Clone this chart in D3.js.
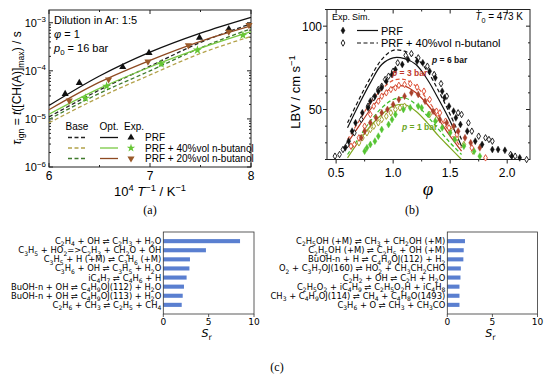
<!DOCTYPE html>
<meta charset="utf-8">
<style>body{margin:0;background:#fff}</style>
<script src="https://d3js.org/d3.v7.min.js"></script>
<div id="chart"></div>
<script>

// ---------- (a) ignition delay times ----------
var invT = [6, 6.5, 7, 7.5, 8];
var optPRF  = [1.9e-5, 7.8e-5, 2.45e-4, 6.1e-4, 1.3e-3];
var opt20   = [1.55e-5, 5.8e-5, 1.65e-4, 4.1e-4, 8.6e-4];
var opt40   = [1.25e-5, 4.3e-5, 1.2e-4, 2.95e-4, 6.5e-4];
var basePRF = [1.1e-5, 4.0e-5, 1.25e-4, 3.9e-4, 9.5e-4];
var base20  = [9.8e-6, 3.4e-5, 1.0e-4, 3.0e-4, 7.5e-4];
var base40  = [8.3e-6, 2.8e-5, 8.2e-5, 2.3e-4, 5.2e-4];
var expPRFx = [6.16, 6.30, 6.73, 6.99, 7.49, 7.78];
var expPRFy = [3.3e-5, 5.6e-5, 1.2e-4, 2.35e-4, 4.9e-4, 7.4e-4];
var exp40x  = [6.36, 6.57, 7.11, 7.47, 7.92];
var exp40y  = [2.7e-5, 4.8e-5, 1.4e-4, 2.7e-4, 5.5e-4];
var exp20x  = [6.2, 6.59, 6.98, 7.38, 7.78, 7.98];
var exp20y  = [2.4e-5, 6.6e-5, 1.55e-4, 3.4e-4, 6.5e-4, 8.9e-4];

// ---------- (b) laminar burning velocity ----------
var simPhi = [0.6, 0.7, 0.8, 0.9, 1.0, 1.1, 1.2, 1.3, 1.4, 1.5, 1.6];
var sim6  = [39, 53, 66, 77, 81, 80.5, 77, 68, 56, 43, 28];
var sim6b = [42, 56, 69, 80, 85.5, 85, 81, 73, 61, 47, 32];
var sim3  = [30, 40, 50, 58, 63.5, 64, 60, 53, 44, 34, 25];
var sim3b = [32, 43, 54, 62, 67.5, 68, 64, 56, 46, 36, 27];
var sim1  = [21, 31, 40, 47, 52, 53, 49, 42, 34, 27, 20];
var sim1b = [23, 33, 43, 51, 56, 57, 53, 46, 38, 30, 23];
var exp6 = [[0.58,27],[0.61,31],[0.64,37],[0.67,42],[0.73,48],[0.78,51],[0.8,55],[0.84,58],[0.87,61],[0.9,63],[0.94,67],[0.99,71],[1.02,74],[1.08,77],[1.13,80],[1.21,79],[1.26,78],[1.32,73],[1.37,69],[1.43,61],[1.45,57],[1.49,52],[1.53,49],[1.55,45],[1.59,41],[1.65,37],[1.72,31],[1.78,29],[1.87,26],[1.92,26],[1.98,25.5],[2.04,22],[2.11,21]];
var exp6b = [[0.49,22],[0.53,23],[0.56,26],[0.6,29],[0.66,36],[0.72,44],[0.78,52],[0.83,57],[0.87,62],[0.9,64],[0.93,68],[0.96,70],[1.0,73],[1.04,78],[1.11,82.5],[1.16,83.5],[1.22,81],[1.3,76],[1.36,71],[1.42,65.5],[1.47,58],[1.57,48],[1.6,47],[1.66,42],[1.69,37],[1.75,34],[1.81,33],[1.84,32],[1.87,31],[2.03,23],[2.07,22],[2.17,20]];
var exp3 = [[0.72,33],[0.75,37],[0.8,42],[0.85,45],[0.9,48],[0.95,50],[1.0,53],[1.05,56],[1.1,58],[1.16,60],[1.22,59],[1.28,55],[1.35,49],[1.41,44],[1.47,42],[1.53,40],[1.57,37],[1.63,33],[1.68,30],[1.76,27]];
var exp3b = [[0.63,28],[0.66,29],[0.7,33],[0.75,40],[0.8,47],[0.83,52],[0.87,55],[0.9,58],[0.94,60],[0.98,62],[1.02,63],[1.05,64.5],[1.1,65],[1.15,65.5],[1.21,63.4],[1.27,61],[1.32,56],[1.38,49],[1.41,48],[1.46,43],[1.49,39],[1.56,35],[1.69,27],[1.81,21]];
var exp1 = [[0.75,25],[0.77,27],[0.8,29],[0.84,31],[0.87,34],[0.9,38],[0.96,41],[0.99,44],[1.02,47],[1.09,50],[1.15,51],[1.22,52],[1.25,51],[1.31,47],[1.37,43],[1.43,39],[1.5,36],[1.54,32],[1.62,28],[1.71,25],[1.76,22]];
var exp1b = [[0.7,30],[0.73,33],[0.77,36],[0.8,38],[0.83,40],[0.87,42],[0.9,44],[0.94,46],[0.98,48],[1.02,50],[1.06,51],[1.1,52],[1.32,47],[1.38,44],[1.5,38],[1.56,33],[1.62,29],[1.7,25]];

// ---------- (c) sensitivity ----------
var reacLeft = ["C2H4 + OH \u21CC C2H3 + H2O", "C3H5 + HO2=>C2H3 + CH2O + OH", "C3H5 + H (+M) \u21CC C3H6 (+M)",
  "C3H6 + OH \u21CC C3H5 + H2O", "iC4H7 \u21CC C4H6 + H", "BuOH-n + OH \u21CC C4H9OJ(112) + H2O",
  "BuOH-n + OH \u21CC C4H9OJ(113) + H2O", "C2H6 + CH3 \u21CC C2H5 + CH4"];
var srLeft = [8.46, 4.7, 2.94, 2.88, 2.57, 2.28, 2.14, 2.03];
var reacRight = ["C2H5OH (+M) \u21CC CH3 + CH2OH (+M)", "C2H5OH (+M) \u21CC C2H5 + OH (+M)", "BuOH-n + H \u21CC C4H9OJ(112) + H2",
  "O2 + C3H7OJ(160) \u21CC HO2 + CH3CH2CHO", "C2H2 + OH \u21CC C2H + H2O", "C2H5O2 + iC4H9 \u21CC C2H5O2H + iC4H8",
  "CH3 + C4H9OJ(114) \u21CC CH4 + C4H8O(1493)", "C3H6 + O \u21CC CH3 + CH3CO"];
var srRight = [1.96, 1.82, 1.78, 1.5, 1.46, 1.35, 1.35, 1.35];

var sans = "Liberation Sans, Arial, sans-serif";

var svg = d3.select("#chart").append("svg")
    .attr("width", 550).attr("height", 378)
    .style("font-family", sans);

// text with sub/superscripts: parts = [[text, kind]], kind: "", "sub", "sup", "it"
function rich(g, parts, size) {
  var prev = 0;
  parts.forEach(function(p) {
    var shift = p[1] == "sub" ? size * 0.28 : p[1] == "sup" ? -size * 0.4 : 0;
    var t = g.append("tspan").text(p[0]).attr("dy", shift - prev);
    if (p[1] == "sub" || p[1] == "sup") t.attr("font-size", size * 0.72);
    if (p[1] == "it") t.attr("font-style", "italic");
    prev = shift;
  });
  return g;
}

// chemistry formula -> parts (digits after letters are subscripts)
function formula(s) {
  var parts = [], cur = "", sub = false;
  for (var i = 0; i < s.length; i++) {
    var c = s[i], isD = /[0-9]/.test(c);
    var want = isD && (sub || (i > 0 && /[A-Za-z]/.test(s[i-1])));
    if (want != sub) { if (cur) parts.push([cur, sub ? "sub" : ""]); cur = ""; sub = want; }
    cur += c;
  }
  if (cur) parts.push([cur, sub ? "sub" : ""]);
  return parts;
}

// ================= (a) =================
var ax = d3.scaleLinear().domain([6, 8]).range([49, 251]);
var ay = d3.scaleLog().domain([1e-6, 1.84e-3]).range([167, 10]);
var ga = svg.append("g");

ga.append("rect").attr("x", 49).attr("y", 10).attr("width", 202).attr("height", 157)
  .attr("fill", "none").attr("stroke", "#222").attr("stroke-width", 1);

var minorA = [];
[-6, -5, -4, -3].forEach(function(e) { for (var k = 1; k < 10; k++) { var v = k * Math.pow(10, e); if (v <= 1.84e-3) minorA.push(v); } });
minorA.forEach(function(v) {
  var len = (Math.abs(Math.log10(v) - Math.round(Math.log10(v))) < 1e-9) ? 4 : 2;
  ga.append("line").attr("x1", 49).attr("x2", 49 + len).attr("y1", ay(v)).attr("y2", ay(v)).attr("stroke", "#222");
  ga.append("line").attr("x1", 251).attr("x2", 251 - len).attr("y1", ay(v)).attr("y2", ay(v)).attr("stroke", "#222");
});
[6, 6.5, 7, 7.5, 8].forEach(function(v) {
  var len = v % 1 == 0 ? 4 : 2;
  ga.append("line").attr("x1", ax(v)).attr("x2", ax(v)).attr("y1", 167).attr("y2", 167 - len).attr("stroke", "#222");
  ga.append("line").attr("x1", ax(v)).attr("x2", ax(v)).attr("y1", 10).attr("y2", 10 + len).attr("stroke", "#222");
});
[6, 7, 8].forEach(function(v) {
  ga.append("text").attr("x", ax(v)).attr("y", 180).attr("text-anchor", "middle").attr("font-size", 12).text(v);
});
[-6, -5, -4, -3].forEach(function(e) {
  var t = ga.append("text").attr("x", 46).attr("y", ay(Math.pow(10, e)) + 4).attr("text-anchor", "end").attr("font-size", 11);
  rich(t, [["10", ""], [String(e).replace("-", "\u2212"), "sup"]], 11);
});
rich(ga.append("text").attr("x", 150).attr("y", 196).attr("text-anchor", "middle").attr("font-size", 13),
  [["10", ""], ["4", "sup"], [" ", ""], ["T", "it"], ["\u22121", "sup"], [" / K", ""], ["\u22121", "sup"]], 13);
rich(ga.append("text").attr("transform", "translate(21,88) rotate(-90)").attr("text-anchor", "middle").attr("font-size", 12),
  [["\u03C4", "it"], ["ign", "sub"], [" = ", ""], ["t", "it"], ["([CH(A)]", ""], ["max", "sub"], [") / s", ""]], 12);
svg.append("text").attr("x", 150).attr("y", 214).attr("text-anchor", "middle")
  .attr("font-family", "Liberation Serif, serif").attr("font-size", 12).text("(a)");

// annotations
ga.append("text").attr("x", 54).attr("y", 24).attr("font-size", 11).text("Dilution in Ar: 1:5");
rich(ga.append("text").attr("x", 54).attr("y", 38).attr("font-size", 11), [["\u03C6", "it"], [" = 1", ""]], 11);
rich(ga.append("text").attr("x", 54).attr("y", 52).attr("font-size", 11), [["p", "it"], ["0", "sub"], [" = 16 bar", ""]], 11);

var lineA = d3.line().x(function(d, i) { return ax(invT[i]); }).y(function(d) { return ay(d); }).curve(d3.curveMonotoneX);
var aLines = [
  [basePRF, "#222", "4,2.5"], [base40, "#b3a24a", "4,2.5"], [base20, "#3f7a2c", "4,2.5"],
  [opt40, "#79c943", null], [opt20, "#8e4a22", null], [optPRF, "#111", null]
];
aLines.forEach(function(l) {
  ga.append("path").attr("d", lineA(l[0])).attr("fill", "none").attr("stroke", l[1])
    .attr("stroke-width", 1.3).attr("stroke-dasharray", l[2]);
});
function marks(g, xs, ys, sx, sy, type, size, color, rot) {
  xs.forEach(function(x, i) {
    g.append("path").attr("d", d3.symbol().type(type).size(size)())
      .attr("transform", "translate(" + sx(x) + "," + sy(ys[i]) + ")" + (rot ? " rotate(180)" : ""))
      .attr("fill", color);
  });
}
marks(ga, expPRFx, expPRFy, ax, ay, d3.symbolTriangle, 22, "#111", false);
marks(ga, exp40x, exp40y, ax, ay, d3.symbolStar, 26, "#66c633", false);
marks(ga, exp20x, exp20y, ax, ay, d3.symbolTriangle, 22, "#9a5a2a", true);

// legend (a)
[["Base", 77], ["Opt.", 109], ["Exp.", 134]].forEach(function(h) {
  ga.append("text").attr("x", h[1]).attr("y", 130).attr("text-anchor", "middle").attr("font-size", 10).text(h[0]);
});
var legA = [
  ["PRF", "#222", "#111", "#111", d3.symbolTriangle, false],
  ["PRF + 40%vol n-butanol", "#b3a24a", "#79c943", "#66c633", d3.symbolStar, false],
  ["PRF + 20%vol n-butanol", "#3f7a2c", "#8e4a22", "#9a5a2a", d3.symbolTriangle, true]
];
legA.forEach(function(r, i) {
  var y = 137.5 + i * 10.5;
  ga.append("line").attr("x1", 68).attr("x2", 87).attr("y1", y).attr("y2", y).attr("stroke", r[1]).attr("stroke-width", 1.3).attr("stroke-dasharray", "4,2.5");
  ga.append("line").attr("x1", 100).attr("x2", 118).attr("y1", y).attr("y2", y).attr("stroke", r[2]).attr("stroke-width", 1.3);
  ga.append("path").attr("d", d3.symbol().type(r[4]).size(22)()).attr("fill", r[3])
    .attr("transform", "translate(131," + y + ")" + (r[5] ? " rotate(180)" : ""));
  ga.append("text").attr("x", 145).attr("y", y + 3.5).attr("font-size", 10).text(r[0]);
});

// ================= (b) =================
var bx = d3.scaleLinear().domain([0.42, 2.2]).range([327, 530]);
var by = d3.scaleLinear().domain([20, 110]).range([159.5, 9.5]);
var gb = svg.append("g");
gb.append("rect").attr("x", 327).attr("y", 9.5).attr("width", 203).attr("height", 150)
  .attr("fill", "none").attr("stroke", "#222");
d3.range(20, 111, 10).forEach(function(v) {
  var len = v % 50 == 0 ? 4 : 2;
  gb.append("line").attr("x1", 327).attr("x2", 327 - len).attr("y1", by(v)).attr("y2", by(v)).attr("stroke", "#222");
  gb.append("line").attr("x1", 530).attr("x2", 530 - len).attr("y1", by(v)).attr("y2", by(v)).attr("stroke", "#222");
});
d3.range(0.5, 2.21, 0.25).forEach(function(v) {
  var len = Math.abs(v * 2 - Math.round(v * 2)) < 1e-6 ? 4 : 2;
  gb.append("line").attr("x1", bx(v)).attr("x2", bx(v)).attr("y1", 159.5).attr("y2", 159.5 + len).attr("stroke", "#222");
  gb.append("line").attr("x1", bx(v)).attr("x2", bx(v)).attr("y1", 9.5).attr("y2", 9.5 + len).attr("stroke", "#222");
});
[50, 100].forEach(function(v) {
  gb.append("text").attr("x", 322).attr("y", by(v) + 4.5).attr("text-anchor", "end").attr("font-size", 12).text(v);
});
[0.5, 1.0, 1.5, 2.0].forEach(function(v) {
  gb.append("text").attr("x", bx(v)).attr("y", 177).attr("text-anchor", "middle").attr("font-size", 12).text(v.toFixed(1));
});
rich(gb.append("text").attr("transform", "translate(300,92) rotate(-90)").attr("text-anchor", "middle").attr("font-size", 13),
  [["LBV / cm s", ""], ["\u22121", "sup"]], 13);
gb.append("text").attr("x", 428).attr("y", 195).attr("text-anchor", "middle").attr("font-family", "Liberation Serif, serif")
  .attr("font-style", "italic").attr("font-size", 19).text("\u03C6");
svg.append("text").attr("x", 412).attr("y", 214).attr("text-anchor", "middle")
  .attr("font-family", "Liberation Serif, serif").attr("font-size", 12).text("(b)");

var lineB = d3.line().x(function(d, i) { return bx(simPhi[i]); }).y(function(d) { return by(d); }).curve(d3.curveCatmullRom);
[[sim1, "#7ea81f", null], [sim1b, "#3fbf2a", "4,2.5"], [sim3, "#b8351f", null], [sim3b, "#e0553a", "4,2.5"],
 [sim6, "#111", null], [sim6b, "#111", "4,2.5"]].forEach(function(l) {
  gb.append("path").attr("d", lineB(l[0])).attr("fill", "none").attr("stroke", l[1])
    .attr("stroke-width", 1.2).attr("stroke-dasharray", l[2]);
});
function pts(data, color, open) {
  data.forEach(function(d) {
    gb.append("path").attr("d", d3.symbol().type(d3.symbolDiamond).size(open ? 12 : 14)())
      .attr("transform", "translate(" + bx(d[0]) + "," + by(d[1]) + ")")
      .attr("fill", open ? "#fff" : color).attr("stroke", color).attr("stroke-width", open ? 0.9 : 0.4);
  });
}
pts(exp1b, "#9a9a1e", true);
pts(exp1, "#55c433", false);
pts(exp3b, "#d9452b", true);
pts(exp3, "#a8402a", false);
pts(exp6b, "#111", true);
pts(exp6, "#111", false);

gb.append("text").attr("x", 332).attr("y", 20).attr("font-size", 9).text("Exp.");
gb.append("text").attr("x", 352).attr("y", 20).attr("font-size", 9).text("Sim.");
rich(gb.append("text").attr("x", 523).attr("y", 20).attr("text-anchor", "end").attr("font-size", 10),
  [["T", "it"], ["0", "sub"], [" = 473 K", ""]], 10);
[["PRF", false, null, 30.5], ["PRF + 40%vol n-butanol", true, "4,2.5", 43]].forEach(function(r) {
  gb.append("path").attr("d", d3.symbol().type(d3.symbolDiamond).size(r[1] ? 12 : 14)())
    .attr("transform", "translate(343," + r[3] + ")").attr("fill", r[1] ? "#fff" : "#111").attr("stroke", "#111").attr("stroke-width", r[1] ? 0.9 : 0.4);
  gb.append("line").attr("x1", 357).attr("x2", 378).attr("y1", r[3]).attr("y2", r[3]).attr("stroke", "#111").attr("stroke-width", 1.2).attr("stroke-dasharray", r[2]);
  gb.append("text").attr("x", 381).attr("y", r[3] + 4).attr("font-size", 11).text(r[0]);
});
[["p = 6 bar", 432, 63, "#111"], ["p = 3 bar", 392, 76, "#c0392b"], ["p = 1 bar", 402, 130, "#6aa51c"]].forEach(function(l) {
  rich(gb.append("text").attr("x", l[1]).attr("y", l[2]).attr("font-size", 8.5).attr("font-weight", "bold").attr("fill", l[3]),
    [["p", "it"], [l[0].slice(1), ""]], 8.5);
});

// ================= (c) =================
function barChart(x0, x1, names, vals) {
  var g = svg.append("g").style("font-family", "DejaVu Sans, sans-serif");
  var x = d3.scaleLinear().domain([0, 10]).range([x0, x1]);
  var y = d3.scaleBand().domain(d3.range(names.length)).range([232, 314]).paddingInner(0.55).paddingOuter(0.78);
  g.selectAll("rect.bar").data(vals).enter().append("rect")
    .attr("x", x(0)).attr("y", function(d, i) { return y(i); })
    .attr("width", function(d) { return x(d) - x(0); }).attr("height", y.bandwidth())
    .attr("fill", "#5a7fd0");
  g.append("rect").attr("x", x0).attr("y", 232).attr("width", x1 - x0).attr("height", 82)
    .attr("fill", "none").attr("stroke", "#333").attr("stroke-width", 0.8);
  names.forEach(function(n, i) {
    rich(g.append("text").attr("x", x0 - 2).attr("y", y(i) + y.bandwidth() / 2 + 3).attr("text-anchor", "end").attr("font-size", 8.4),
      formula(n), 8.4);
  });
  [0, 5, 10].forEach(function(v) {
    g.append("line").attr("x1", x(v)).attr("x2", x(v)).attr("y1", 314).attr("y2", 317).attr("stroke", "#333").attr("stroke-width", 0.8);
    g.append("text").attr("x", x(v)).attr("y", 325).attr("text-anchor", "middle").attr("font-size", 9).text(v);
  });
  rich(g.append("text").attr("x", (x0 + x1) / 2 - 2).attr("y", 337).attr("text-anchor", "middle").attr("font-size", 11),
    [["S", "it"], ["r", "sub"]], 11);
}
barChart(163.3, 254, reacLeft, srLeft);
barChart(447.3, 537.5, reacRight, srRight);
svg.append("text").attr("x", 277).attr("y", 371).attr("text-anchor", "middle")
  .attr("font-family", "Liberation Serif, serif").attr("font-size", 12).text("(c)");

</script>
